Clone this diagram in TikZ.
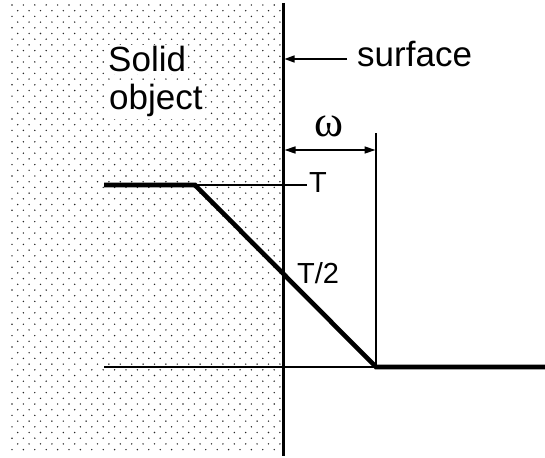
\documentclass[tikz,border=0pt]{standalone}
\usepackage{fontspec}
\setmainfont{Liberation Sans}
\newfontfamily\greekfont{Liberation Serif}
\usetikzlibrary{arrows.meta,positioning}

\begin{document}
\begin{tikzpicture}[x=1pt,y=-1pt,
  thinline/.style={line width=1.4pt},
  profile/.style={line width=4.6pt,line join=miter},
  surf/.style={line width=3pt},
  arr/.style={-{Triangle[length=10pt,width=7pt]},line width=1.4pt},
  dim/.style={{Triangle[length=11pt,width=7pt]}-{Triangle[length=11pt,width=7pt]},line width=1.4pt},
  lbl/.style={font=\fontsize{29}{32}\selectfont,inner sep=0pt},
  big/.style={font=\fontsize{35}{38}\selectfont,inner sep=0pt}]
\useasboundingbox (0,0) rectangle (545,457);
% dotted solid
\foreach \j in {0,...,78}{
  \pgfmathsetmacro\yy{5+5.7*\j}
  \pgfmathsetmacro\off{mod(\j,2)*5.7}
  \foreach \i in {0,...,23}
    \fill[black!85] (12+\off+11.4*\i,\yy) circle (0.8pt);
}
\node[big,fill=white,inner sep=2pt,anchor=base west] (solid) at (106,72) {Solid};
\node[big,fill=white,inner sep=2pt,anchor=base west] (object) at (107,110) {object};
% surface
\coordinate (stop) at (283,3);
\coordinate (sbot) at (283,456);
\draw[surf] (stop) -- (sbot);
\node[big,anchor=base west] (surflbl) at (357,67) {surface};
\coordinate (sarr) at (347,59);
\coordinate (shit) at (284.5,59);
\draw[arr] (sarr) -- (shit);
% temperature profile
\coordinate (pleft) at (104,185);
\coordinate (knee) at (195,185);
\coordinate (foot) at (376,367);
\coordinate (pright) at (545,367);
\coordinate (tend) at (307,185);
\coordinate (bleft) at (104,367);
\coordinate (wtop) at (376,133);
\draw[thinline] (knee) -- (tend);
\draw[thinline] (bleft) -- (foot);
\draw[thinline] (foot) -- (wtop);
\draw[profile] (pleft) -- (knee) -- (foot) -- (pright);
\node[lbl,anchor=base west] (tlbl) at (309,192) {T};
\node[lbl,anchor=base west] (thlf) at (297,283) {T/2};
% width
\coordinate (wa) at (284.5,150);
\coordinate (wb) at (375.5,150);
\draw[dim] (wa) -- (wb);
\node[inner sep=0pt,anchor=base,font=\greekfont\fontsize{44}{46}\selectfont] (omega) at (329,137) {ω};
\end{tikzpicture}
\end{document}
